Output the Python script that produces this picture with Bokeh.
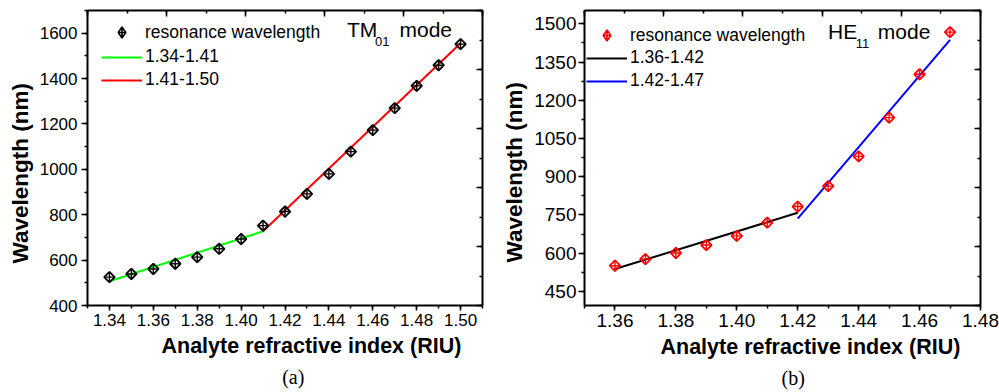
import numpy as np
from bokeh.plotting import figure
from bokeh.models import (Range1d, LinearAxis, SingleIntervalTicker, PrintfTickFormatter,
                          Legend, LegendItem, Label, Title, CustomJSTickFormatter)
from bokeh.layouts import row
from bokeh.embed import file_html
from bokeh.resources import INLINE

# ---------------- data: panel (a), TM01 mode ----------------
tm_n = [1.34, 1.35, 1.36, 1.37, 1.38, 1.39, 1.40, 1.41, 1.42, 1.43, 1.44, 1.45,
        1.46, 1.47, 1.48, 1.49, 1.50]
tm_wl = [525, 539, 561, 584, 613, 650, 693, 752, 814, 892, 980, 1078,
         1173, 1270, 1368, 1459, 1552]
tm_fit1_n = [1.34, 1.41]
tm_fit1_wl = [507, 727]
tm_fit2_n = [1.41, 1.50]
tm_fit2_wl = [727, 1556]
tm_labels = ["resonance wavelength", "1.34-1.41", "1.41-1.50"]

# ---------------- data: panel (b), HE11 mode ----------------
he_n = [1.36, 1.37, 1.38, 1.39, 1.40, 1.41, 1.42, 1.43, 1.44, 1.45, 1.46, 1.47]
he_wl = [551, 577, 601, 632, 668, 720, 783, 863, 980, 1132, 1302, 1467]
he_fit1_n = [1.36, 1.42]
he_fit1_wl = [538, 759]
he_fit2_n = [1.42, 1.47]
he_fit2_wl = [736, 1437]
he_labels = ["resonance wavelength", "1.36-1.42", "1.42-1.47"]

x_title = "Analyte refractive index (RIU)"
y_title = "Wavelength (nm)"

FONT = "Liberation Sans"
SERIF = "Liberation Serif"


def make_panel(width, bl, br, bb, xr, yr, y_step, tick_fs, y_standoff,
               n, wl, f1n, f1wl, f2n, f2wl, labels, mcolor, c1, c2,
               leg1_loc, leg2_loc, mode_main, mode_sub, mode_pos, xt_off, yt_off,
               yt_standoff, caption, cap_off):
    p = figure(width=width, height=392, x_range=Range1d(*xr), y_range=Range1d(*yr),
               output_backend="svg", toolbar_location=None,
               min_border_left=bl, min_border_right=br, min_border_top=10,
               min_border_bottom=bb, background_fill_color="white",
               border_fill_color="white", outline_line_color=None)
    p.grid.visible = False
    p.extra_x_ranges = {"deco": Range1d(0, 10)}
    p.extra_y_ranges = {"deco": Range1d(0, 10)}

    xa = p.xaxis[0]
    ya = p.yaxis[0]
    xa.ticker = SingleIntervalTicker(interval=0.02, num_minor_ticks=2)
    xa.formatter = PrintfTickFormatter(format="%.2f")
    ya.ticker = SingleIntervalTicker(interval=y_step, num_minor_ticks=2)
    for ax in (xa, ya):
        ax.axis_line_width = 2
        ax.axis_line_color = "black"
        ax.major_tick_line_width = 1.5
        ax.minor_tick_line_width = 1.5
        ax.major_tick_line_color = "black"
        ax.minor_tick_line_color = "black"
        ax.major_tick_in = 0
        ax.minor_tick_in = 0
        ax.major_label_text_font = FONT
        ax.major_label_text_font_size = tick_fs
        ax.major_label_text_color = "black"
    xa.major_tick_out = 5
    xa.minor_tick_out = 3
    xa.major_label_standoff = 3
    ya.major_tick_out = 6
    ya.minor_tick_out = 3
    ya.major_label_standoff = y_standoff

    blank = CustomJSTickFormatter(code="return ''")
    top = LinearAxis(x_range_name="deco", formatter=blank,
                     ticker=SingleIntervalTicker(interval=2, num_minor_ticks=2))
    right = LinearAxis(y_range_name="deco", formatter=blank,
                       ticker=SingleIntervalTicker(interval=2, num_minor_ticks=2))
    for ax in (top, right):
        ax.axis_line_width = 2
        ax.axis_line_color = "black"
        ax.major_tick_in = 6
        ax.major_tick_out = 0
        ax.minor_tick_in = 3
        ax.minor_tick_out = 0
        ax.major_tick_line_width = 1.5
        ax.minor_tick_line_width = 1.5
        ax.major_label_standoff = 0
    p.add_layout(top, "above")
    p.add_layout(right, "right")

    l1 = p.line(f1n, f1wl, line_color=c1, line_width=2)
    l2 = p.line(f2n, f2wl, line_color=c2, line_width=2)
    p.scatter(n, wl, marker="square", size=7.5, angle=np.pi / 4,
              fill_color=None, line_color=mcolor, line_width=1.8)
    p.scatter(n, wl, marker="cross", size=10, line_color=mcolor, line_width=1.4)
    # legend sample marker: zero size in the plot (legend uses its own size)
    lg = p.scatter(n, wl, marker="diamond_cross", size=0, fill_color=None,
                   line_color=mcolor, line_width=1.6, line_cap="butt")

    common = dict(padding=0, margin=0, glyph_width=41, label_height=20,
                  label_standoff=3, border_line_color=None,
                  background_fill_alpha=0, label_text_font=FONT,
                  label_text_font_size="17.5px", label_text_color="black")
    leg1 = Legend(items=[LegendItem(label=labels[0], renderers=[lg])],
                  location=leg1_loc, glyph_height=28, spacing=0, **common)
    leg2 = Legend(items=[LegendItem(label=labels[1], renderers=[l1]),
                         LegendItem(label=labels[2], renderers=[l2])],
                  location=leg2_loc, glyph_height=20, spacing=2, **common)
    p.add_layout(leg1)
    p.add_layout(leg2)

    (mx, my), (sx, sy), (ex, ey) = mode_pos
    p.add_layout(Label(x=mx, y=my, x_units="screen", y_units="screen", text=mode_main,
                       text_font=FONT, text_font_size="21px", text_color="black",
                       text_baseline="middle", text_align="left"))
    p.add_layout(Label(x=sx, y=sy, x_units="screen", y_units="screen", text=mode_sub,
                       text_font=FONT, text_font_size="13px", text_color="black",
                       text_baseline="middle", text_align="left"))
    p.add_layout(Label(x=ex, y=ey, x_units="screen", y_units="screen", text="mode",
                       text_font=FONT, text_font_size="21px", text_color="black",
                       text_baseline="middle", text_align="left"))

    p.add_layout(Title(text=x_title, align="left", offset=xt_off, standoff=6,
                       text_font=FONT, text_font_size="21.5px", text_font_style="bold",
                       text_color="black"), "below")
    p.add_layout(Title(text=caption, align="left", offset=cap_off, standoff=7,
                       text_font=SERIF, text_font_size="20px", text_font_style="normal",
                       text_color="black"), "below")
    p.add_layout(Title(text=y_title, align="left", offset=yt_off, standoff=yt_standoff,
                       text_font=FONT, text_font_size="22.5px", text_font_style="bold",
                       text_color="black"), "left")
    return p


p1 = make_panel(495, 87, 13, 87, (1.33, 1.51), (400, 1700), 200, "17px", 4,
                tm_n, tm_wl, tm_fit1_n, tm_fit1_wl, tm_fit2_n, tm_fit2_wl, tm_labels,
                "black", "#00ff00", "#ff0000",
                (14, 259), (14, 215), "TM", "01",
                ((259.5, 275.8), (287.5, 263.7), (312, 275.8)),
                74, 42, 8, "(a)", 194.7)

p2 = make_panel(504, 89, 19, 85, (1.35, 1.48), (395, 1552), 150, "19px", 2,
                he_n, he_wl, he_fit1_n, he_fit1_wl, he_fit2_n, he_fit2_wl, he_labels,
                "red", "black", "#0000ff",
                (2, 256), (2, 214), "HE", "11",
                ((243.5, 274.5), (271.3, 262.4), (293.3, 274.5)),
                76, 43, 9, "(b)", 197)

layout = row(p1, p2)
open("out.html", "w").write(file_html(layout, INLINE))
